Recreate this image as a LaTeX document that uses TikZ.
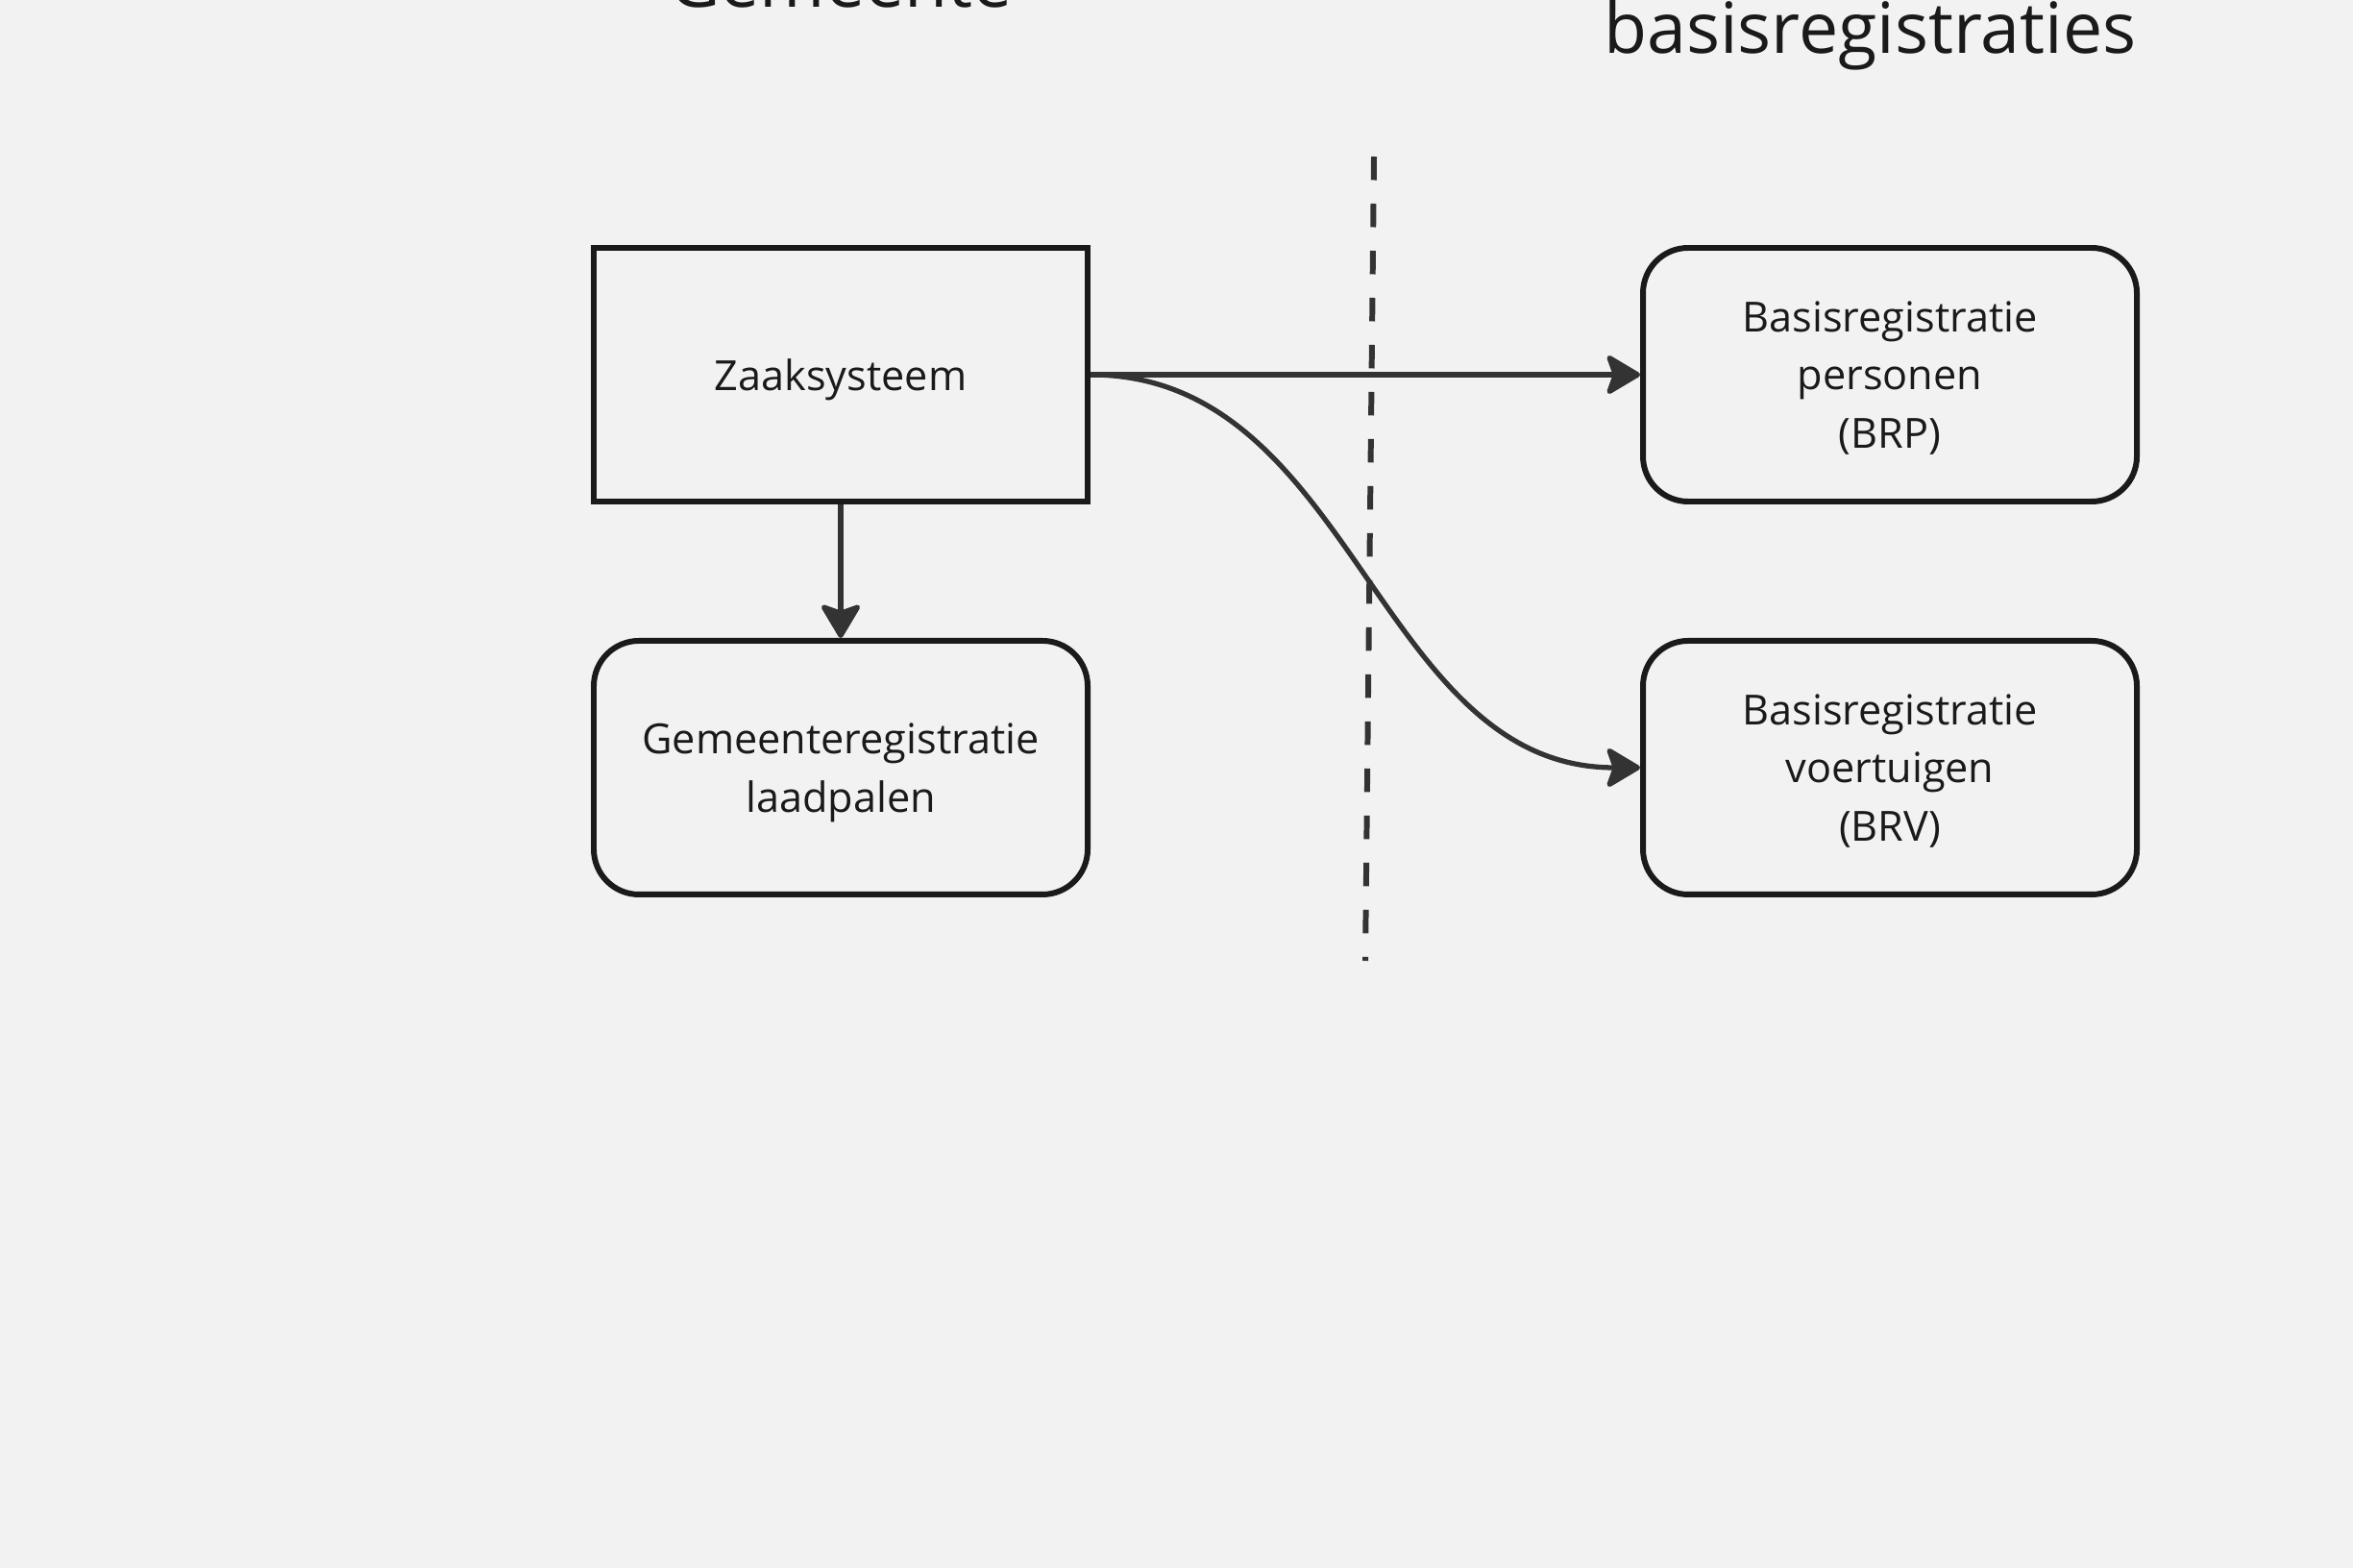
\documentclass[tikz,border=0pt]{standalone}
\usepackage{fontspec}
\setmainfont{Open Sans}
\usepackage{tikz}
\usetikzlibrary{arrows.meta}
\usetikzlibrary{positioning}
\usetikzlibrary{calc}

\definecolor{canvas}{HTML}{F2F2F2}
\definecolor{ink}{HTML}{1A1A1A}
\definecolor{wire}{HTML}{333333}

\begin{document}
\begin{tikzpicture}[]
    \newcommand{\vspacing}[0]{ 1.39cm }
    \tikzstyle{flow}  = [line width=1.5pt,draw=wire,-{Stealth[length=0.39cm,width=0.46cm,inset=0.08cm,round]}]
    \tikzstyle{divider} = [line width=1.7pt,draw=wire,dash pattern=on 0.245cm off 0.245cm]
    \tikzstyle{title}=[
      font=\fontsize{20.9}{28}\selectfont,
      text=ink,
      inner sep=0pt,
    ]
    \tikzstyle{system}=[
      rectangle,
      draw=ink,
      line width=1.7pt,
      text=ink,
      align=center,
      text depth=0pt,
      font=\fontsize{12.3}{17.3}\selectfont,
      minimum width=5.14cm,
      minimum height=2.64cm,
    ]
    \tikzstyle{register}=[
      system,
      rounded corners=0.47cm,
    ]

    % canvas
    \fill[canvas] (0,0) rectangle (24.49,-16.32);
    \useasboundingbox (0,0) rectangle (24.49,-16.32);

    % column titles
    \node[title,anchor=base] (gemeente title) at (8.75,-0.08) {Gemeente};
    \node[title,anchor=base east] (landelijk title) at (22.24,-0.56) {basisregistraties};

    % systems
    \node[system] (zaak) at (8.75,-3.9) {Zaaksysteem};
    \node[register,anchor=north] (laadpalen) at ([yshift=-\vspacing]zaak.south) {Gemeenteregistratie\\laadpalen};
    \node[register] (brp) at (19.67,-3.9) {Basisregistratie\\personen\\(BRP)};
    \node[register,anchor=north] (brv) at ([yshift=-\vspacing]brp.south) {Basisregistratie\\voertuigen\\(BRV)};

    % boundary
    \coordinate (divider top) at (14.30,-1.63);
    \coordinate (divider bottom) at (14.21,-10.00);
    \draw[divider] (divider top)--(divider bottom);

    \draw[flow] (zaak)--(laadpalen);
    \draw[flow] (zaak.east)--(brp.west);
    \draw[flow] (zaak.east) to[out=0,in=180] (brv.west);
  \end{tikzpicture}
\end{document}
